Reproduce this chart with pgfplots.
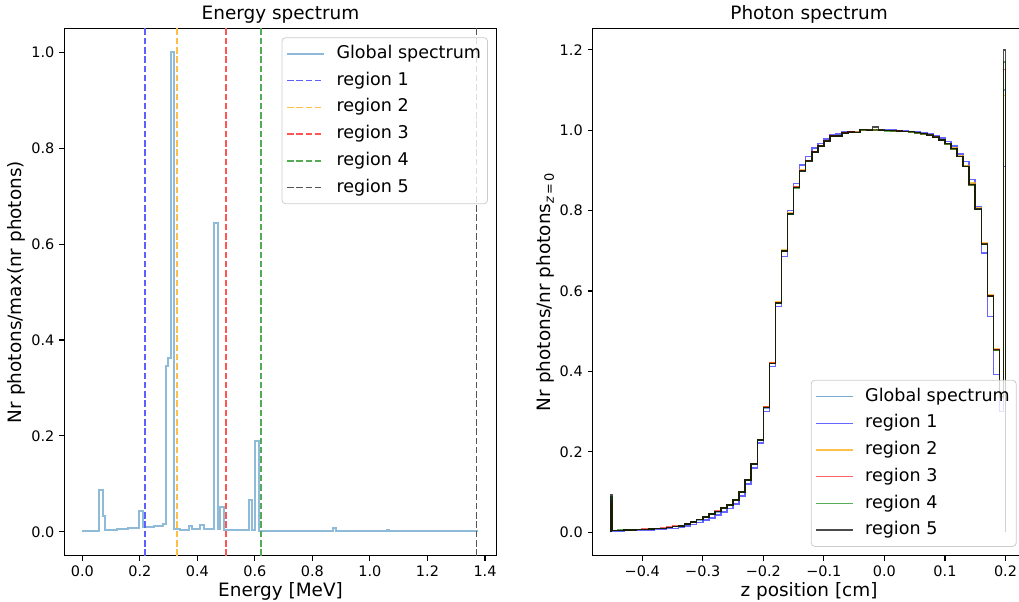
\documentclass[border=0pt]{standalone}
\usepackage{fontspec}
\setmainfont{DejaVu Sans}
\usepackage{pgfplots}
\usepackage{pgfplotstable}
\pgfplotsset{compat=1.18}

\definecolor{czero}{RGB}{31,119,180}
\definecolor{mplorange}{RGB}{255,165,0}
\definecolor{mplgreen}{RGB}{0,128,0}
\definecolor{legframe}{RGB}{204,204,204}
\definecolor{vblue}{RGB}{95,95,255}
\definecolor{vorange}{RGB}{255,190,70}
\definecolor{vred}{RGB}{255,85,85}
\definecolor{vgreen}{RGB}{85,170,85}
\definecolor{vblack}{RGB}{85,85,85}

\pgfplotstableread{
z g r1 r2 r3 r4 r5
-0.4515 0 0 0 0 0 0
-0.4515 0.070 0.025 0.065 0.078 0.088 0.093
-0.45 0.005 0.003 0.005 0.005 0.005 0.005
-0.44 0.005 0.003 0.005 0.005 0.006 0.005
-0.43 0.006 0.004 0.006 0.006 0.006 0.006
-0.42 0.006 0.004 0.006 0.007 0.006 0.006
-0.41 0.007 0.005 0.007 0.007 0.007 0.007
-0.40 0.007 0.005 0.007 0.008 0.007 0.007
-0.39 0.008 0.006 0.008 0.009 0.008 0.008
-0.38 0.009 0.007 0.009 0.010 0.009 0.009
-0.37 0.010 0.008 0.010 0.011 0.010 0.010
-0.36 0.012 0.009 0.012 0.013 0.012 0.012
-0.35 0.014 0.010 0.014 0.015 0.014 0.014
-0.34 0.016 0.012 0.016 0.017 0.016 0.016
-0.33 0.020 0.015 0.021 0.021 0.021 0.021
-0.32 0.025 0.019 0.026 0.026 0.026 0.026
-0.31 0.031 0.024 0.032 0.032 0.032 0.032
-0.30 0.037 0.030 0.038 0.038 0.038 0.038
-0.29 0.044 0.036 0.045 0.045 0.045 0.045
-0.28 0.051 0.043 0.052 0.053 0.052 0.052
-0.27 0.059 0.051 0.060 0.061 0.060 0.060
-0.26 0.067 0.059 0.068 0.069 0.068 0.068
-0.25 0.079 0.070 0.080 0.081 0.080 0.080
-0.24 0.099 0.090 0.100 0.101 0.100 0.100
-0.23 0.129 0.120 0.130 0.131 0.130 0.130
-0.22 0.169 0.160 0.171 0.171 0.170 0.170
-0.21 0.229 0.222 0.231 0.231 0.230 0.230
-0.20 0.309 0.300 0.311 0.311 0.310 0.310
-0.19 0.420 0.412 0.422 0.421 0.420 0.420
-0.18 0.570 0.562 0.572 0.571 0.569 0.570
-0.17 0.699 0.686 0.702 0.700 0.699 0.700
-0.16 0.793 0.800 0.795 0.793 0.792 0.792
-0.15 0.858 0.867 0.860 0.858 0.856 0.857
-0.14 0.899 0.913 0.901 0.899 0.897 0.898
-0.13 0.924 0.935 0.925 0.924 0.922 0.923
-0.12 0.946 0.955 0.947 0.945 0.944 0.945
-0.11 0.961 0.967 0.962 0.960 0.959 0.960
-0.10 0.974 0.978 0.974 0.973 0.972 0.973
-0.09 0.985 0.988 0.986 0.985 0.984 0.985
-0.08 0.986 0.990 0.986 0.985 0.985 0.985
-0.07 0.993 0.995 0.993 0.993 0.992 0.993
-0.06 0.995 0.997 0.995 0.995 0.994 0.995
-0.05 0.995 0.996 0.995 0.994 0.994 0.994
-0.04 1.001 1.002 1.001 1.000 1.000 1.002
-0.03 0.999 1.001 1.000 0.999 0.999 1.000
-0.02 1.001 1.002 1.001 1.000 1.000 1.008
-0.01 1.000 1.001 1.000 0.999 0.999 1.000
0.00 0.999 1.000 0.999 0.999 0.998 0.999
0.01 0.999 1.000 0.999 0.998 0.998 0.999
0.02 0.998 0.999 0.998 0.998 0.997 0.998
0.03 0.997 0.998 0.997 0.996 0.996 0.997
0.04 0.996 0.997 0.996 0.995 0.995 0.996
0.05 0.994 0.995 0.994 0.993 0.993 0.994
0.06 0.991 0.993 0.991 0.990 0.990 0.991
0.07 0.988 0.991 0.988 0.987 0.987 0.988
0.08 0.983 0.987 0.983 0.982 0.982 0.983
0.09 0.976 0.981 0.976 0.975 0.975 0.976
0.10 0.967 0.972 0.967 0.966 0.966 0.967
0.11 0.954 0.960 0.955 0.953 0.953 0.954
0.12 0.935 0.941 0.936 0.934 0.934 0.935
0.13 0.911 0.922 0.912 0.909 0.909 0.910
0.14 0.866 0.877 0.868 0.864 0.864 0.865
0.15 0.805 0.810 0.807 0.803 0.803 0.804
0.16 0.716 0.695 0.719 0.716 0.715 0.717
0.17 0.587 0.537 0.590 0.587 0.586 0.588
0.18 0.452 0.392 0.456 0.453 0.452 0.454
0.19 0.335 0.300 0.338 0.336 0.337 0.338
0.197 1.100 0.909 1.086 1.151 1.170 1.199
0.20 0 0 0 0 0 0
}\photons

\pgfplotsset{
  base/.style={
    scale only axis,
    enlargelimits=false,
    tick align=outside,
    major tick length=4.9bp,
    every tick/.style={black, line width=1.1bp},
    axis line style={black, line width=1.1bp},
    xtick pos=left, ytick pos=left,
    /pgf/number format/assume math mode=true,
    scaled ticks=false,
    tick label style={font=\fontsize{14.5}{17}\selectfont},
    xticklabel style={anchor=north, inner sep=0pt, yshift=-4.9bp},
    yticklabel style={anchor=east, inner sep=0pt, xshift=-4.9bp},
    every axis title/.style={at={(axis description cs:0.5,1)}, anchor=base, yshift=8.3bp, font=\fontsize{18.5}{22}\selectfont},
    every axis x label/.style={at={(axis description cs:0.5,0)}, anchor=base, yshift=-40.4bp, font=\fontsize{18.5}{22}\selectfont},
    every axis y label/.style={at={(axis description cs:0,0.5)}, xshift=-42.4bp, rotate=90, anchor=base, font=\fontsize{18.5}{22}\selectfont},
    legend image code/.code={\draw[#1] (0bp,0bp) -- (37bp,0bp);},
    legend cell align=left,
    legend style={
      font=\fontsize{17.6}{21}\selectfont,
      draw=legframe, line width=0.8bp, rounded corners=3.5bp,
      fill=white, fill opacity=0.8, draw opacity=1, text opacity=1,
      inner xsep=4bp, inner ysep=5.5bp,
      row sep=5.1bp, column sep=9bp,
      nodes={inner xsep=2.5bp, inner ysep=2bp, text height=13.4bp, text depth=4.2bp},
    },
    vline/.style={line width=1.5bp, dash pattern=on 6.5bp off 2.8bp},
  },
}

\begin{document}
\begin{tikzpicture}
\useasboundingbox (-64.3bp,-46.2bp) rectangle (954.7bp,555.8bp);

\begin{axis}[base,
  at={(0bp,0bp)}, anchor=south west,
  width=432.4bp, height=527.5bp,
  xmin=-0.0626, xmax=1.4407, ymin=-0.05, ymax=1.05,
  xtick={0,0.2,0.4,0.6,0.8,1.0,1.2,1.4},
  ytick={0,0.2,0.4,0.6,0.8,1.0},
  xticklabel style={/pgf/number format/.cd, fixed, fixed zerofill, precision=1},
  yticklabel style={/pgf/number format/.cd, fixed, fixed zerofill, precision=1},
  title={Energy spectrum},
  xlabel={Energy [MeV]},
  ylabel={Nr photons/max(nr photons)},
  legend style={at={(axis description cs:1,1)}, anchor=north east, xshift=-8.8bp, yshift=-9bp},
]
\addplot[const plot, czero, opacity=0.5, line width=2bp] coordinates {
(0.003,0) (0.003,0.001) (0.059,0.087) (0.071,0.034) (0.080,0.003) (0.10,0.004)
(0.12,0.005) (0.14,0.006) (0.16,0.007) (0.18,0.008) (0.198,0.043) (0.210,0.010)
(0.23,0.011) (0.25,0.012) (0.27,0.013) (0.282,0.016) (0.291,0.345) (0.299,0.362)
(0.309,1.0) (0.320,0.005) (0.34,0.004) (0.370,0.012) (0.381,0.005) (0.409,0.014)
(0.423,0.005) (0.459,0.645) (0.471,0.005) (0.480,0.052) (0.494,0.003) (0.581,0.066)
(0.590,0.003) (0.6005,0.19) (0.613,0.001) (0.873,0.008) (0.882,0.001) (1.058,0.003)
(1.067,0.001) (1.371,0.001) (1.371,0)
};
\addlegendentry{Global spectrum}
\addplot[vblue, vline] coordinates {(0.218,-0.05) (0.218,1.05)};
\addlegendentry{region 1}
\addplot[vorange, vline] coordinates {(0.3285,-0.05) (0.3285,1.05)};
\addlegendentry{region 2}
\addplot[vred, vline] coordinates {(0.499,-0.05) (0.499,1.05)};
\addlegendentry{region 3}
\addplot[vgreen, vline] coordinates {(0.6205,-0.05) (0.6205,1.05)};
\addlegendentry{region 4}
\addplot[vblack, vline] coordinates {(1.371,-0.05) (1.371,1.05)};
\addlegendentry{region 5}
\end{axis}

\begin{axis}[base,
  at={(528.4bp,0bp)}, anchor=south west,
  width=426.3bp, height=527.5bp,
  axis x line*=box, axis y line*=left,
  xmin=-0.4818, xmax=0.2223, ymin=-0.0585, ymax=1.2532,
  xtick={-0.4,-0.3,-0.2,-0.1,0,0.1,0.2},
  xticklabels={−0.4,−0.3,−0.2,−0.1,0.0,0.1,0.2},
  ytick={0,0.2,0.4,0.6,0.8,1.0,1.2},
  yticklabel style={/pgf/number format/.cd, fixed, fixed zerofill, precision=1},
  title={Photon spectrum},
  title style={xshift=3.2bp},
  xlabel={z position [cm]},
  xlabel style={xshift=3.2bp},
  ylabel={Nr photons/nr photons\textsubscript{\itshape z\upshape\,=\,0}},
  legend style={at={(axis description cs:1,0)}, anchor=south east, xshift=-2.4bp, yshift=9bp},
]
\addplot[const plot, czero, opacity=0.6, line width=1.5bp] table[x=z, y=g] {\photons};
\addlegendentry{Global spectrum}
\addplot[const plot, blue, opacity=0.6, line width=1.5bp] table[x=z, y=r1] {\photons};
\addlegendentry{region 1}
\addplot[const plot, mplorange, opacity=0.7, line width=1.5bp] table[x=z, y=r2] {\photons};
\addlegendentry{region 2}
\addplot[const plot, red, opacity=0.6, line width=1.5bp] table[x=z, y=r3] {\photons};
\addlegendentry{region 3}
\addplot[const plot, mplgreen, opacity=0.65, line width=1.5bp] table[x=z, y=r4] {\photons};
\addlegendentry{region 4}
\addplot[const plot, black, opacity=0.7, line width=1.5bp] table[x=z, y=r5] {\photons};
\addlegendentry{region 5}
\end{axis}
\end{tikzpicture}
\end{document}
